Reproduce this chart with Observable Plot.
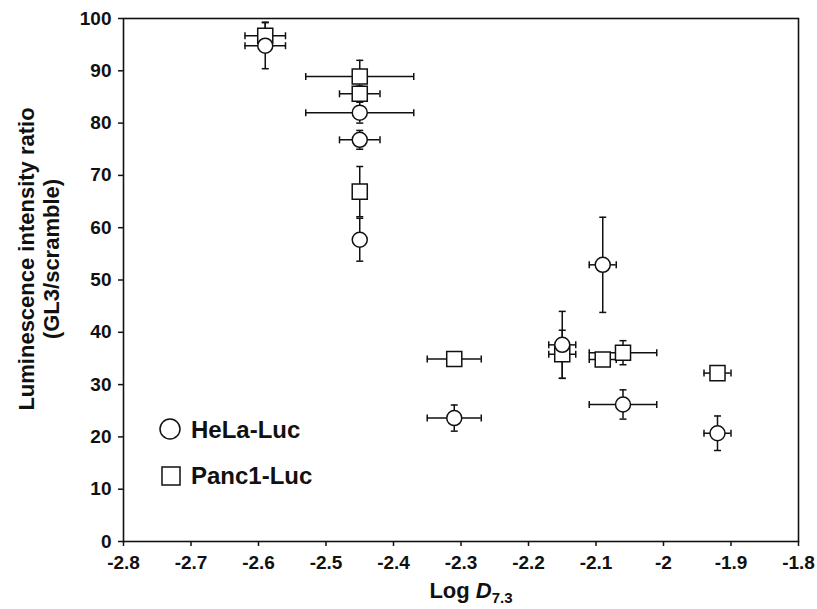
<!DOCTYPE html>
<html>
<head>
<meta charset="utf-8">
<script src="https://cdn.jsdelivr.net/npm/d3@7"></script>
<script src="https://cdn.jsdelivr.net/npm/@observablehq/plot@0.6"></script>
<style>
  html, body { margin: 0; padding: 0; background: #fff; }
  #chart { position: relative; width: 817px; height: 609px; }
</style>
</head>
<body>
<div id="chart"></div>
<script>
// ---- data ----
const seriesNames = ["HeLa-Luc", "Panc1-Luc"];

const helaX  = [-2.59, -2.45, -2.45, -2.45, -2.31, -2.15, -2.09, -2.06, -1.92];
const helaY  = [94.8, 82.0, 76.8, 57.7, 23.6, 37.6, 52.9, 26.2, 20.7];
const helaEx = [0.03, 0.08, 0.03, 0.0, 0.04, 0.02, 0.02, 0.05, 0.02];
const helaEy = [4.4, 2.0, 1.8, 4.1, 2.5, 6.4, 9.1, 2.8, 3.3];

const pancX  = [-2.59, -2.45, -2.45, -2.45, -2.31, -2.15, -2.09, -2.06, -1.92];
const pancY  = [96.7, 88.9, 85.6, 66.9, 34.9, 35.8, 34.8, 36.1, 32.2];
const pancEx = [0.03, 0.08, 0.03, 0.0, 0.04, 0.02, 0.02, 0.05, 0.02];
const pancEy = [2.6, 3.1, 1.5, 4.8, 0.5, 4.6, 1.2, 2.3, 0.5];

const xTicks = [-2.8, -2.7, -2.6, -2.5, -2.4, -2.3, -2.2, -2.1, -2.0, -1.9, -1.8];
const xTickLabels = ["-2.8", "-2.7", "-2.6", "-2.5", "-2.4", "-2.3", "-2.2", "-2.1", "-2", "-1.9", "-1.8"];
const yTicks = [0, 10, 20, 30, 40, 50, 60, 70, 80, 90, 100];

// ---- build tables ----
const toRows = (xs, ys, exs, eys, name) =>
  xs.map((x, i) => ({ series: name, x, y: ys[i], ex: exs[i], ey: eys[i] }));
const hela = toRows(helaX, helaY, helaEx, helaEy, seriesNames[0]);
const panc = toRows(pancX, pancY, pancEx, pancEy, seriesNames[1]);
const all = [...panc, ...hela];
const withEy = all.filter(d => d.ey > 0);
const withEx = all.filter(d => d.ex > 0);

// cap symbols
const hCap = { draw(ctx, size) { const r = Math.sqrt(size / Math.PI); ctx.moveTo(-r, 0); ctx.lineTo(r, 0); } };
const vCap = { draw(ctx, size) { const r = Math.sqrt(size / Math.PI); ctx.moveTo(0, -r); ctx.lineTo(0, r); } };

const ink = "#111";
const font = "'Liberation Sans', Arial, Helvetica, sans-serif";

const svg = Plot.plot({
  width: 817,
  height: 609,
  marginLeft: 123,
  marginRight: 19,
  marginTop: 18,
  marginBottom: 68,
  style: { fontFamily: font, fontWeight: "bold", fontSize: "19px", color: ink, background: "#fff" },
  x: { domain: [-2.8, -1.8] },
  y: { domain: [0, 100] },
  marks: [
    Plot.axisX({
      anchor: "bottom", ticks: xTicks, tickSize: 5, tickPadding: 9, fontSize: 19,
      tickFormat: d => { const i = xTicks.indexOf(d); return i >= 0 ? xTickLabels[i] : String(d); },
      label: null, stroke: ink, strokeWidth: 1.5, fill: ink
    }),
    Plot.axisY({
      anchor: "left", ticks: yTicks, tickSize: 5, tickPadding: 7, fontSize: 19,
      tickFormat: d => String(d), label: null, stroke: ink, strokeWidth: 1.5, fill: ink
    }),
    Plot.frame({ stroke: ink, strokeWidth: 1.6 }),
    // vertical error bars
    Plot.ruleX(withEy, { x: "x", y1: d => d.y - d.ey, y2: d => d.y + d.ey, stroke: ink, strokeWidth: 1.5 }),
    Plot.dot(withEy, { x: "x", y: d => d.y - d.ey, symbol: hCap, r: 3.5, fill: "none", stroke: ink, strokeWidth: 1.5 }),
    Plot.dot(withEy, { x: "x", y: d => d.y + d.ey, symbol: hCap, r: 3.5, fill: "none", stroke: ink, strokeWidth: 1.5 }),
    // horizontal error bars
    Plot.ruleY(withEx, { y: "y", x1: d => d.x - d.ex, x2: d => d.x + d.ex, stroke: ink, strokeWidth: 1.5 }),
    Plot.dot(withEx, { x: d => d.x - d.ex, y: "y", symbol: vCap, r: 3.5, fill: "none", stroke: ink, strokeWidth: 1.5 }),
    Plot.dot(withEx, { x: d => d.x + d.ex, y: "y", symbol: vCap, r: 3.5, fill: "none", stroke: ink, strokeWidth: 1.5 }),
    // markers
    Plot.dot(panc, { x: "x", y: "y", symbol: "square", r: 8.5, fill: "white", stroke: ink, strokeWidth: 1.5 }),
    Plot.dot(hela, { x: "x", y: "y", symbol: "circle", r: 7.5, fill: "white", stroke: ink, strokeWidth: 1.5 })
  ]
});

const s = d3.select(svg);

// x axis title
const xt = s.append("text")
  .attr("x", 471).attr("y", 598)
  .attr("text-anchor", "middle")
  .attr("font-family", font).attr("font-weight", "bold").attr("font-size", 22)
  .attr("fill", ink);
xt.append("tspan").text("Log ");
xt.append("tspan").attr("font-style", "italic").text("D");
xt.append("tspan").attr("font-size", 15).attr("dy", 5).text("7.3");

// y axis title (two lines)
const yLines = ["Luminescence intensity ratio", "(GL3/scramble)"];
const yLineX = [26, 51];
yLines.forEach((t, i) => {
  s.append("text")
    .attr("transform", `translate(${yLineX[i]},259) rotate(-90)`)
    .attr("text-anchor", "middle")
    .attr("dominant-baseline", "central")
    .attr("font-family", font).attr("font-weight", "bold").attr("font-size", 22)
    .attr("fill", ink)
    .text(t);
});

// legend
const lg = s.append("g").attr("font-family", font).attr("font-weight", "bold").attr("font-size", 24)
  .attr("fill", ink).attr("text-anchor", "start");
lg.append("circle").attr("cx", 170).attr("cy", 429).attr("r", 10)
  .attr("fill", "white").attr("stroke", ink).attr("stroke-width", 1.5);
lg.append("text").attr("x", 191).attr("y", 437.5).attr("text-anchor", "start").text(seriesNames[0]);
lg.append("rect").attr("x", 162).attr("y", 467).attr("width", 18).attr("height", 18)
  .attr("fill", "white").attr("stroke", ink).attr("stroke-width", 1.5);
lg.append("text").attr("x", 191).attr("y", 484).attr("text-anchor", "start").text(seriesNames[1]);

document.getElementById("chart").appendChild(svg);
</script>
</body>
</html>
